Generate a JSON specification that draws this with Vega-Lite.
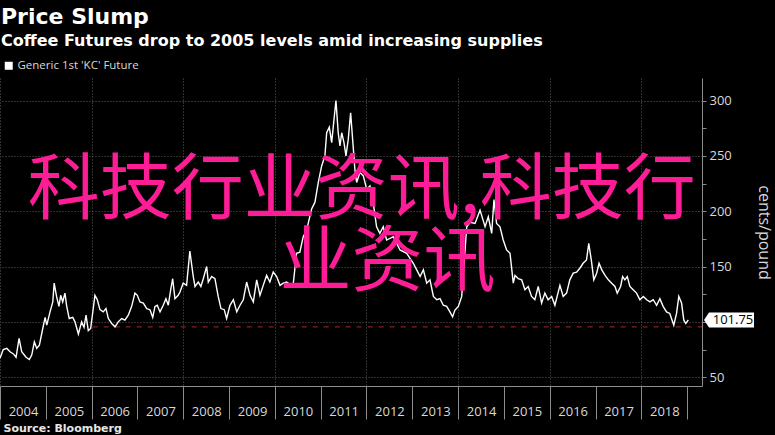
{
  "$schema": "https://vega.github.io/schema/vega-lite/v6.json",
  "width": 702,
  "height": 308,
  "autosize": {"type": "none"},
  "padding": {"left": 0, "top": 78, "right": 73, "bottom": 49},
  "background": "#000000",
  "config": {"view": {"stroke": null}},
  "title": {
    "text": "Price Slump",
    "subtitle": "Coffee Futures drop to 2005 levels amid increasing supplies",
    "anchor": "start",
    "frame": "group",
    "font": "DejaVu Sans",
    "fontSize": 22,
    "fontWeight": "bold",
    "color": "#ffffff",
    "subtitleFont": "DejaVu Sans",
    "subtitleFontSize": 16,
    "subtitleFontWeight": "bold",
    "subtitleColor": "#ffffff",
    "subtitlePadding": 4,
    "offset": 10,
    "dx": 1
  },
  "datasets": {
    "coffee": [
      {"date": "2004-01-01", "price": 67}, {"date": "2004-01-27", "price": 75}, {"date": "2004-02-24", "price": 76},
      {"date": "2004-03-21", "price": 73}, {"date": "2004-04-17", "price": 71}, {"date": "2004-05-08", "price": 68},
      {"date": "2004-06-01", "price": 85}, {"date": "2004-06-22", "price": 73}, {"date": "2004-07-27", "price": 68},
      {"date": "2004-08-22", "price": 66}, {"date": "2004-09-10", "price": 70}, {"date": "2004-10-01", "price": 82},
      {"date": "2004-10-20", "price": 76}, {"date": "2004-11-10", "price": 79}, {"date": "2004-12-07", "price": 94},
      {"date": "2004-12-26", "price": 104}, {"date": "2005-01-08", "price": 97}, {"date": "2005-02-03", "price": 109},
      {"date": "2005-02-25", "price": 118}, {"date": "2005-03-08", "price": 135}, {"date": "2005-03-27", "price": 123},
      {"date": "2005-04-15", "price": 114}, {"date": "2005-04-29", "price": 124}, {"date": "2005-05-15", "price": 118},
      {"date": "2005-06-02", "price": 126}, {"date": "2005-06-16", "price": 114}, {"date": "2005-07-06", "price": 103},
      {"date": "2005-08-03", "price": 104}, {"date": "2005-08-21", "price": 100}, {"date": "2005-09-17", "price": 89},
      {"date": "2005-10-13", "price": 100}, {"date": "2005-11-01", "price": 95}, {"date": "2005-11-17", "price": 106},
      {"date": "2005-12-05", "price": 92}, {"date": "2005-12-24", "price": 94}, {"date": "2006-01-09", "price": 108},
      {"date": "2006-01-27", "price": 124}, {"date": "2006-02-15", "price": 120}, {"date": "2006-03-08", "price": 111},
      {"date": "2006-04-03", "price": 109}, {"date": "2006-04-25", "price": 112}, {"date": "2006-05-14", "price": 103},
      {"date": "2006-06-10", "price": 98.5}, {"date": "2006-07-06", "price": 95.5}, {"date": "2006-08-01", "price": 100},
      {"date": "2006-08-28", "price": 103}, {"date": "2006-09-23", "price": 101.5}, {"date": "2006-10-20", "price": 106},
      {"date": "2006-11-16", "price": 114}, {"date": "2006-12-12", "price": 126}, {"date": "2006-12-31", "price": 124},
      {"date": "2007-01-21", "price": 118}, {"date": "2007-02-17", "price": 117}, {"date": "2007-03-16", "price": 112},
      {"date": "2007-04-11", "price": 111}, {"date": "2007-05-03", "price": 104}, {"date": "2007-05-21", "price": 114},
      {"date": "2007-06-08", "price": 115}, {"date": "2007-06-30", "price": 109}, {"date": "2007-07-26", "price": 115},
      {"date": "2007-08-16", "price": 121}, {"date": "2007-09-04", "price": 115}, {"date": "2007-09-23", "price": 129},
      {"date": "2007-10-09", "price": 139}, {"date": "2007-10-27", "price": 121}, {"date": "2007-11-22", "price": 124},
      {"date": "2007-12-06", "price": 127}, {"date": "2008-01-01", "price": 135}, {"date": "2008-01-28", "price": 133},
      {"date": "2008-02-23", "price": 164}, {"date": "2008-03-21", "price": 141}, {"date": "2008-04-04", "price": 132},
      {"date": "2008-04-30", "price": 136}, {"date": "2008-05-21", "price": 132}, {"date": "2008-06-09", "price": 139},
      {"date": "2008-07-06", "price": 150}, {"date": "2008-07-19", "price": 136}, {"date": "2008-08-15", "price": 141},
      {"date": "2008-09-10", "price": 139}, {"date": "2008-10-06", "price": 123}, {"date": "2008-10-28", "price": 112},
      {"date": "2008-11-23", "price": 111}, {"date": "2008-12-12", "price": 103}, {"date": "2009-01-08", "price": 115},
      {"date": "2009-02-04", "price": 120}, {"date": "2009-03-03", "price": 109}, {"date": "2009-03-29", "price": 115},
      {"date": "2009-04-24", "price": 120}, {"date": "2009-05-21", "price": 136}, {"date": "2009-06-17", "price": 124},
      {"date": "2009-07-13", "price": 118}, {"date": "2009-08-09", "price": 138}, {"date": "2009-09-04", "price": 124},
      {"date": "2009-09-30", "price": 133}, {"date": "2009-10-27", "price": 142}, {"date": "2009-11-22", "price": 136},
      {"date": "2009-12-19", "price": 145}, {"date": "2010-01-15", "price": 141}, {"date": "2010-02-11", "price": 133},
      {"date": "2010-03-09", "price": 135}, {"date": "2010-04-05", "price": 136}, {"date": "2010-05-01", "price": 134},
      {"date": "2010-05-27", "price": 134}, {"date": "2010-06-23", "price": 162}, {"date": "2010-07-19", "price": 163},
      {"date": "2010-08-15", "price": 177}, {"date": "2010-09-11", "price": 183}, {"date": "2010-10-21", "price": 202},
      {"date": "2010-11-16", "price": 208}, {"date": "2010-12-13", "price": 226}, {"date": "2011-01-09", "price": 241},
      {"date": "2011-02-04", "price": 250}, {"date": "2011-02-18", "price": 271}, {"date": "2011-03-11", "price": 276},
      {"date": "2011-03-30", "price": 262}, {"date": "2011-04-12", "price": 277}, {"date": "2011-05-03", "price": 300},
      {"date": "2011-05-21", "price": 271}, {"date": "2011-06-04", "price": 259}, {"date": "2011-06-18", "price": 271},
      {"date": "2011-07-06", "price": 262}, {"date": "2011-07-22", "price": 250}, {"date": "2011-08-09", "price": 265},
      {"date": "2011-08-28", "price": 289}, {"date": "2011-09-13", "price": 265}, {"date": "2011-10-01", "price": 238},
      {"date": "2011-10-15", "price": 226}, {"date": "2011-11-10", "price": 235}, {"date": "2011-12-07", "price": 232},
      {"date": "2012-01-03", "price": 220}, {"date": "2012-01-29", "price": 223}, {"date": "2012-02-24", "price": 208},
      {"date": "2012-03-22", "price": 186}, {"date": "2012-04-17", "price": 180}, {"date": "2012-05-14", "price": 186},
      {"date": "2012-06-10", "price": 174}, {"date": "2012-08-02", "price": 177}, {"date": "2012-09-25", "price": 165},
      {"date": "2012-11-17", "price": 162}, {"date": "2013-01-09", "price": 153}, {"date": "2013-02-05", "price": 147},
      {"date": "2013-03-04", "price": 141}, {"date": "2013-03-30", "price": 147}, {"date": "2013-04-26", "price": 135},
      {"date": "2013-05-22", "price": 138}, {"date": "2013-06-18", "price": 123}, {"date": "2013-07-15", "price": 120},
      {"date": "2013-08-10", "price": 121}, {"date": "2013-09-05", "price": 115}, {"date": "2013-10-02", "price": 114},
      {"date": "2013-10-28", "price": 109}, {"date": "2013-11-18", "price": 104.5}, {"date": "2013-12-07", "price": 110.6},
      {"date": "2014-01-03", "price": 114}, {"date": "2014-01-30", "price": 123}, {"date": "2014-02-12", "price": 144},
      {"date": "2014-03-11", "price": 186}, {"date": "2014-04-06", "price": 190}, {"date": "2014-05-16", "price": 189},
      {"date": "2014-06-25", "price": 201}, {"date": "2014-08-04", "price": 186}, {"date": "2014-08-30", "price": 195},
      {"date": "2014-09-26", "price": 180}, {"date": "2014-10-14", "price": 210.6}, {"date": "2014-11-04", "price": 189},
      {"date": "2014-12-01", "price": 186}, {"date": "2014-12-27", "price": 174}, {"date": "2015-01-23", "price": 165},
      {"date": "2015-02-19", "price": 162}, {"date": "2015-03-17", "price": 135}, {"date": "2015-03-31", "price": 142},
      {"date": "2015-04-26", "price": 139}, {"date": "2015-05-23", "price": 138}, {"date": "2015-06-18", "price": 129},
      {"date": "2015-07-14", "price": 132}, {"date": "2015-08-10", "price": 123}, {"date": "2015-09-05", "price": 120},
      {"date": "2015-10-02", "price": 132}, {"date": "2015-10-29", "price": 117}, {"date": "2015-11-24", "price": 126},
      {"date": "2015-12-20", "price": 120}, {"date": "2016-01-17", "price": 123}, {"date": "2016-02-12", "price": 115},
      {"date": "2016-03-23", "price": 133}, {"date": "2016-04-18", "price": 123}, {"date": "2016-05-15", "price": 126},
      {"date": "2016-06-10", "price": 138}, {"date": "2016-07-07", "price": 144}, {"date": "2016-08-03", "price": 145},
      {"date": "2016-08-29", "price": 148.5}, {"date": "2016-09-24", "price": 153}, {"date": "2016-10-21", "price": 156},
      {"date": "2016-11-08", "price": 171}, {"date": "2016-11-30", "price": 154.5}, {"date": "2016-12-18", "price": 138},
      {"date": "2017-01-10", "price": 144}, {"date": "2017-01-29", "price": 153}, {"date": "2017-02-20", "price": 147},
      {"date": "2017-03-18", "price": 142}, {"date": "2017-04-13", "price": 138}, {"date": "2017-05-10", "price": 135},
      {"date": "2017-06-05", "price": 132}, {"date": "2017-06-23", "price": 126}, {"date": "2017-07-20", "price": 132},
      {"date": "2017-08-05", "price": 141}, {"date": "2017-08-23", "price": 138}, {"date": "2017-09-11", "price": 141},
      {"date": "2017-10-02", "price": 132}, {"date": "2017-10-28", "price": 129}, {"date": "2017-11-24", "price": 126},
      {"date": "2017-12-21", "price": 120}, {"date": "2018-01-17", "price": 123}, {"date": "2018-02-13", "price": 120},
      {"date": "2018-03-11", "price": 118}, {"date": "2018-04-06", "price": 120}, {"date": "2018-05-03", "price": 115},
      {"date": "2018-05-29", "price": 121}, {"date": "2018-06-24", "price": 114}, {"date": "2018-07-21", "price": 109},
      {"date": "2018-08-16", "price": 107.6}, {"date": "2018-09-17", "price": 97}, {"date": "2018-10-09", "price": 107.6},
      {"date": "2018-10-27", "price": 123}, {"date": "2018-11-18", "price": 117}, {"date": "2018-12-06", "price": 101.5},
      {"date": "2018-12-22", "price": 98.5}, {"date": "2019-01-11", "price": 101.75}
    ],
    "level": [{"date": "2006-01-09", "date2": "2019-04-30", "price": 95.5}],
    "last": [{"date": "2019-04-30", "price": 101.75, "label": "101.75"}],
    "overlay": [
      {"date": "2011-11-25", "price": 218.5, "label": "科技行业资讯,科技行"},
      {"date": "2012-06-18", "price": 153.5, "label": "业资讯"}
    ]
  },
  "encoding": {
    "x": {
      "field": "date",
      "type": "temporal",
      "scale": {"domain": [{"year": 2004, "month": 1, "date": 1}, {"year": 2019, "month": 4, "date": 30}]},
      "axis": {
        "values": [
          {"year": 2004, "month": 1, "date": 1}, {"year": 2005, "month": 1, "date": 1}, {"year": 2006, "month": 1, "date": 1},
          {"year": 2007, "month": 1, "date": 1}, {"year": 2008, "month": 1, "date": 1}, {"year": 2009, "month": 1, "date": 1},
          {"year": 2010, "month": 1, "date": 1}, {"year": 2011, "month": 1, "date": 1}, {"year": 2012, "month": 1, "date": 1},
          {"year": 2013, "month": 1, "date": 1}, {"year": 2014, "month": 1, "date": 1}, {"year": 2015, "month": 1, "date": 1},
          {"year": 2016, "month": 1, "date": 1}, {"year": 2017, "month": 1, "date": 1}, {"year": 2018, "month": 1, "date": 1},
          {"year": 2019, "month": 1, "date": 1}
        ],
        "format": "%Y",
        "labelExpr": "year(datum.value) >= 2019 ? '' : datum.label",
        "labelOffset": 23,
        "labelPadding": -8,
        "labelBaseline": "middle",
        "labelFlush": false,
        "labelOverlap": false,
        "labelBound": false,
        "labelFont": "Open Sans",
        "labelFontSize": 13,
        "labelColor": "#d9d9d9",
        "tickSize": 33,
        "tickColor": "#8c8c8c",
        "domainColor": "#8c8c8c",
        "grid": true,
        "gridColor": "#5e5e5e",
        "gridDash": [1, 2],
        "gridOpacity": {"condition": {"test": "year(datum.value) % 2 === 0", "value": 1}, "value": 0},
        "title": "Source: Bloomberg",
        "titleFont": "DejaVu Sans",
        "titleFontWeight": "bold",
        "titleFontSize": 11,
        "titleColor": "#e6e6e6",
        "titleAnchor": "start",
        "titleAlign": "left",
        "titleBaseline": "alphabetic",
        "titleX": 3,
        "titleY": 45
      }
    },
    "y": {
      "field": "price",
      "type": "quantitative",
      "scale": {"domain": [42, 320.5], "nice": false, "zero": false},
      "axis": {
        "orient": "right",
        "values": [50, 75, 100, 125, 150, 175, 200, 225, 250, 275, 300],
        "labelExpr": "datum.value % 50 === 0 && datum.value !== 100 ? datum.label : ''",
        "labelFont": "Open Sans",
        "labelFontSize": 13,
        "labelColor": "#d9d9d9",
        "labelPadding": 3,
        "tickSize": 4,
        "tickColor": "#8c8c8c",
        "domainColor": "#8c8c8c",
        "grid": true,
        "gridColor": "#5e5e5e",
        "gridDash": [1, 2],
        "gridOpacity": {"condition": {"test": "datum.value % 50 === 0", "value": 1}, "value": 0},
        "title": "cents/pound",
        "titleFont": "Open Sans",
        "titleFontSize": 16,
        "titleFontWeight": "normal",
        "titleColor": "#d9d9d9",
        "titlePadding": 24
      }
    }
  },
  "layer": [
    {
      "data": {"name": "level"},
      "mark": {"type": "rule", "color": "#8a1f1f", "strokeWidth": 1.3, "strokeDash": [5, 6]},
      "encoding": {"x2": {"field": "date2"}}
    },
    {
      "data": {"name": "coffee"},
      "mark": {"type": "line", "strokeWidth": 1.4, "strokeJoin": "miter"},
      "encoding": {
        "color": {
          "datum": "Generic 1st 'KC' Future",
          "scale": {"range": ["#ffffff"]},
          "legend": {
            "orient": "none",
            "legendX": 3,
            "legendY": -18,
            "title": null,
            "symbolType": "square",
            "symbolSize": 64,
            "labelFont": "Open Sans",
            "labelFontSize": 11.5,
            "labelColor": "#d9d9d9",
            "labelOffset": 3,
            "encode": {"symbols": {"update": {"fill": {"value": "#ffffff"}, "stroke": {"value": "#ffffff"}, "strokeWidth": {"value": 0}, "shape": {"value": "square"}}}}
          }
        }
      }
    },
    {
      "data": {"name": "last"},
      "mark": {
        "type": "point",
        "shape": "M0.08,0L0.28,-0.3L2.08,-0.3L2.08,0.3L0.28,0.3Z",
        "size": 2500,
        "filled": true,
        "fill": "#ffffff",
        "opacity": 1,
        "strokeWidth": 0
      }
    },
    {
      "data": {"name": "last"},
      "mark": {"type": "text", "dx": 31, "align": "center", "baseline": "middle", "font": "Open Sans", "fontSize": 13, "color": "#000000"},
      "encoding": {"text": {"field": "label"}}
    },
    {
      "data": {"name": "overlay"},
      "mark": {"type": "text", "align": "center", "baseline": "middle", "font": "Noto Sans CJK SC", "fontSize": 72, "color": "#ff1d97"},
      "encoding": {"text": {"field": "label"}}
    }
  ]
}
